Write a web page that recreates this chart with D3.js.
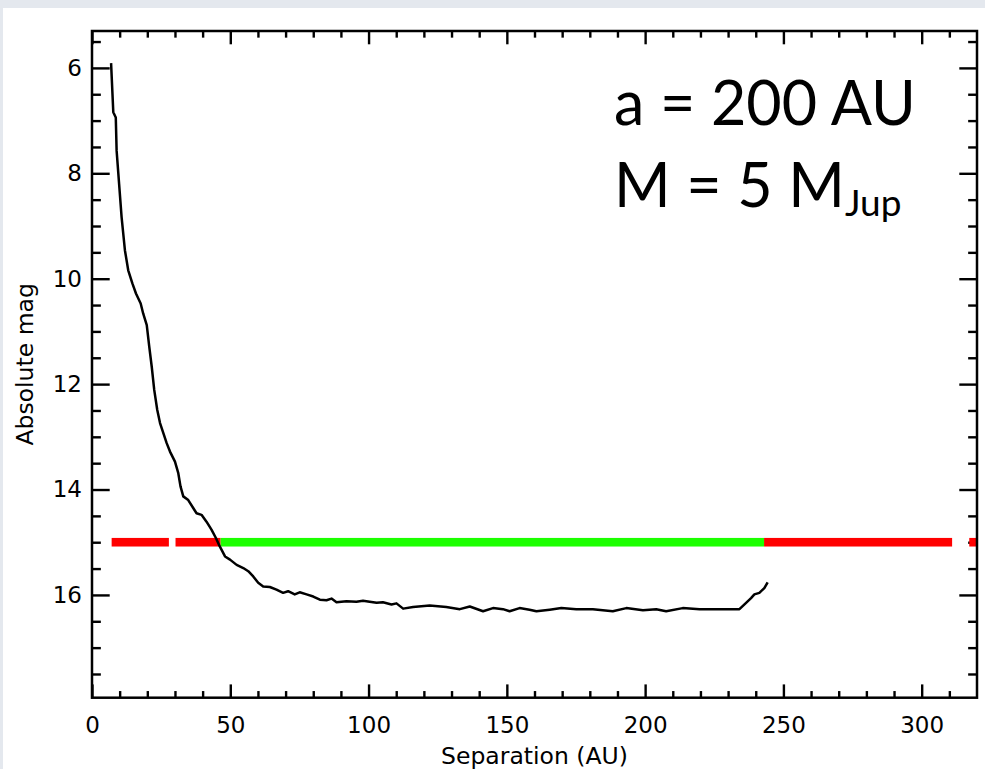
<!DOCTYPE html>
<html>
<head>
<meta charset="utf-8">
<script src="https://cdn.jsdelivr.net/npm/d3@7"></script>
<style>
  html, body { margin: 0; padding: 0; background: #e4e8ee; }
  svg { display: block; }
  .tick text { font-family: "DejaVu Sans", sans-serif; font-size: 23px; fill: #000; }
  .tick line { stroke: #000; stroke-width: 2.4; }
  .title { font-family: "DejaVu Sans", sans-serif; font-size: 23.5px; fill: #000; }
  .note { font-family: Lato, "Open Sans", sans-serif; fill: #000; }
</style>
</head>
<body>
<div id="chart"></div>
<script>
// separation (AU) and absolute magnitude of the curve
const sepAU = [6.9, 7.7, 8.6, 8.9, 9.8, 10.7, 11.9, 13.1, 14.6, 15.9, 17.6, 18.5, 19.8, 20.7, 21.6, 22.5,
  23.6, 24.6, 25.8, 27.0, 28.2, 30.0, 31.2, 32.0, 33.0, 34.8, 36.6, 37.8, 39.6, 41.4, 43.2, 44.8,
  46.2, 48.1, 49.9, 52.3, 54.7, 56.5, 58.3, 60.1, 61.9, 64.3, 66.7, 69.1, 70.9, 73.3, 75.1, 77.6,
  80.0, 82.4, 84.8, 86.6, 88.4, 92.0, 95.6, 98.0, 100.4, 102.9, 105.2, 108.3, 110.1, 112.5, 116.1,
  122.1, 128.1, 133.0, 136.6, 141.4, 145.0, 148.6, 151.0, 154.6, 158.2, 160.7, 165.5, 169.7, 175.1,
  181.1, 188.3, 193.2, 199.2, 204.0, 207.6, 213.6, 219.7, 225.7, 234.1, 236.5, 238.3, 239.5, 241.3,
  243.1, 244.3];
const absMag = [5.91, 6.84, 6.94, 7.57, 8.20, 8.83, 9.46, 9.84, 10.09, 10.28, 10.47, 10.66, 10.88, 11.29, 11.67, 12.11,
  12.49, 12.74, 12.93, 13.12, 13.28, 13.47, 13.69, 13.94, 14.13, 14.20, 14.35, 14.45, 14.48, 14.61, 14.76, 14.92,
  15.08, 15.27, 15.33, 15.43, 15.49, 15.55, 15.65, 15.77, 15.84, 15.85, 15.90, 15.96, 15.93, 15.99, 15.95, 15.99,
  16.03, 16.09, 16.10, 16.07, 16.14, 16.12, 16.13, 16.11, 16.13, 16.15, 16.14, 16.18, 16.16, 16.26, 16.23,
  16.20, 16.23, 16.27, 16.22, 16.31, 16.25, 16.27, 16.31, 16.25, 16.28, 16.31, 16.28, 16.25, 16.27,
  16.27, 16.31, 16.25, 16.29, 16.27, 16.31, 16.25, 16.27, 16.27, 16.27, 16.15, 16.06, 15.99, 15.96,
  15.87, 15.76];

// horizontal band at mag 15: separation ranges in red and green
const bandMag = 15;
const redRanges = [[7.1, 27.8], [30.2, 46.5], [243, 311], [317.2, 320]];
const greenRanges = [[46.5, 243]];

const xTicks = [0, 50, 100, 150, 200, 250, 300];
const xMinor = d3.range(10, 320, 10).filter((v) => v % 50 !== 0);
const yTicks = [6, 8, 10, 12, 14, 16];
const yMinor = d3.range(5.5, 18, 0.5).filter((v) => v % 2 !== 0);

const W = 985, H = 769;
const L = 92, R = 977, T = 31, B = 697.7;

const svg = d3.select("#chart").append("svg").attr("width", W).attr("height", H);
svg.append("rect").attr("width", W).attr("height", H).attr("fill", "#e4e8ee");
svg.append("rect").attr("x", 3).attr("y", 8).attr("width", W - 3).attr("height", H - 8).attr("fill", "#fff");

const x = d3.scaleLinear().domain([0, 320]).range([L, R]);
const y = d3.scaleLinear().domain([5.3, 17.95]).range([T, B]);

const tx = 13.3, ty = 17.7; // tick lengths

function axis(gen, scale, vals, len, labels, pad) {
  return gen(scale).tickValues(vals).tickSize(-len).tickSizeOuter(0)
    .tickPadding(pad || 0).tickFormat(labels ? d3.format("d") : () => "");
}

const axes = svg.append("g");
// major + minor ticks on all four sides
axes.append("g").attr("transform", `translate(0,${B})`).call(axis(d3.axisBottom, x, xTicks, tx, true, 19));
axes.append("g").attr("transform", `translate(0,${B})`).call(axis(d3.axisBottom, x, xMinor, tx / 2));
axes.append("g").attr("transform", `translate(0,${T})`).call(axis(d3.axisTop, x, xTicks, tx));
axes.append("g").attr("transform", `translate(0,${T})`).call(axis(d3.axisTop, x, xMinor, tx / 2));
axes.append("g").attr("transform", `translate(${L},0)`).call(axis(d3.axisLeft, y, yTicks, ty, true, 10));
axes.append("g").attr("transform", `translate(${L},0)`).call(axis(d3.axisLeft, y, yMinor, ty / 2));
axes.append("g").attr("transform", `translate(${R},0)`).call(axis(d3.axisRight, y, yTicks, ty));
axes.append("g").attr("transform", `translate(${R},0)`).call(axis(d3.axisRight, y, yMinor, ty / 2));
axes.selectAll(".domain").remove();
axes.selectAll(".tick text").attr("fill", "#000");

// band
const bandH = 8.6;
const band = svg.append("g");
const seg = (ranges, color) => band.append("g").selectAll("rect").data(ranges).join("rect")
  .attr("x", (d) => x(d[0]))
  .attr("width", (d) => x(Math.min(d[1], 320)) - x(d[0]))
  .attr("y", y(bandMag) - bandH / 2)
  .attr("height", bandH)
  .attr("fill", color);
seg(redRanges, "#ff0000");
seg(greenRanges, "#1cff00");

// curve
const pts = sepAU.map((s, i) => [s, absMag[i]]);
svg.append("path")
  .datum(pts)
  .attr("fill", "none")
  .attr("stroke", "#000")
  .attr("stroke-width", 2.5)
  .attr("stroke-linejoin", "round")
  .attr("d", d3.line().x((d) => x(d[0])).y((d) => y(d[1])));

// frame
svg.append("rect")
  .attr("x", L).attr("y", T).attr("width", R - L).attr("height", B - T)
  .attr("fill", "none").attr("stroke", "#000").attr("stroke-width", 2.5);

// axis titles
svg.append("text").attr("class", "title")
  .attr("x", (L + R) / 2).attr("y", 764).attr("text-anchor", "middle")
  .text("Separation (AU)");
svg.append("text").attr("class", "title")
  .attr("transform", `translate(33,${(T + B) / 2}) rotate(-90)`)
  .attr("text-anchor", "middle")
  .text("Absolute mag");

// annotation
const note = svg.append("g").attr("class", "note");
note.append("text").attr("x", 614).attr("y", 125).attr("font-size", 61).text("a = 200 AU");
const t2 = note.append("text").attr("x", 614).attr("y", 207).attr("font-size", 61);
t2.append("tspan").text("M = 5 M");
t2.append("tspan").attr("font-size", 37).attr("dy", 9).text("Jup");
</script>
</body>
</html>
